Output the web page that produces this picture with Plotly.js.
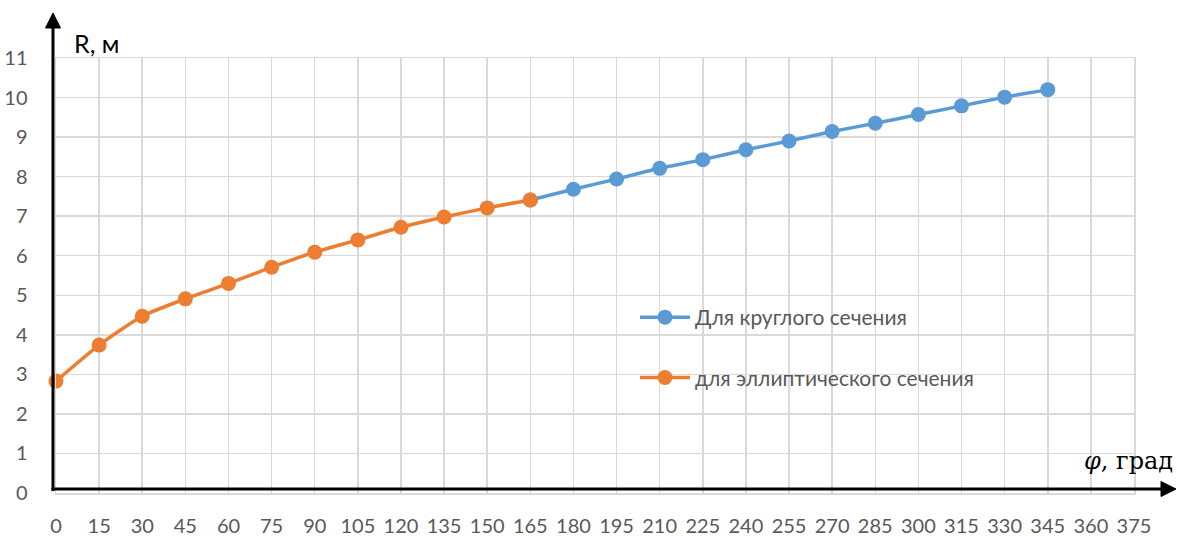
<!DOCTYPE html>
<html>
<head>
<meta charset="utf-8">
<script src="https://cdn.plot.ly/plotly-3.0.1.min.js"></script>
<style>
html,body{margin:0;padding:0;background:#fff;}
#chart{width:1177px;height:536px;}
</style>
</head>
<body>
<div id="chart"></div>
<script>
// Data
var phiElliptic = [0, 15, 30, 45, 60, 75, 90, 105, 120, 135, 150, 165];
var rElliptic = [2.83, 3.74, 4.47, 4.91, 5.30, 5.71, 6.09, 6.40, 6.72, 6.98, 7.21, 7.41];
var phiRound = [165, 180, 195, 210, 225, 240, 255, 270, 285, 300, 315, 330, 345];
var rRound = [7.41, 7.68, 7.94, 8.21, 8.43, 8.68, 8.90, 9.14, 9.35, 9.57, 9.79, 10.01, 10.20];
var xTicks = [0,15,30,45,60,75,90,105,120,135,150,165,180,195,210,225,240,255,270,285,300,315,330,345,360,375];
var yTicks = [0,1,2,3,4,5,6,7,8,9,10,11];
var nameRound = 'Для круглого сечения';
var nameElliptic = 'для эллиптического сечения';

// Layout geometry (pixels)
var W = 1177, H = 536;
var mL = 56, mR = 43, mT = 58, mB = 43;
var pw = W - mL - mR, ph = H - mT - mB;
function px(x){ return (x - mL) / pw; }
function py(y){ return (H - mB - y) / ph; }

var traces = [
  {
    x: phiRound, y: rRound, name: nameRound, type: 'scatter', mode: 'lines+markers',
    line: {color: '#5B9BD5', width: 3.5, shape: 'spline', smoothing: 0.6},
    marker: {color: '#5B9BD5', size: 15},
    legendgroup: 'a', cliponaxis: false
  },
  {
    x: phiElliptic, y: rElliptic, name: nameElliptic, type: 'scatter', mode: 'lines+markers',
    line: {color: '#ED7D31', width: 3.5, shape: 'spline', smoothing: 0.6},
    marker: {color: '#ED7D31', size: 15},
    legendgroup: 'b', cliponaxis: false
  }
];

var axFont = {family: 'Lato, "Open Sans", sans-serif', size: 20, color: '#595959'};

var layout = {
  width: W, height: H,
  margin: {l: mL, r: mR, t: mT, b: mB, pad: 0},
  paper_bgcolor: '#ffffff', plot_bgcolor: '#ffffff',
  showlegend: true,
  legend: {
    x: px(635), y: py(297), xanchor: 'left', yanchor: 'top',
    bgcolor: 'rgba(0,0,0,0)', borderwidth: 0,
    font: {family: 'Lato, "Open Sans", sans-serif', size: 21, color: '#595959'},
    tracegroupgap: 30, itemwidth: 50, traceorder: 'grouped'
  },
  xaxis: {
    range: [0, 375], tickmode: 'array', tickvals: xTicks, ticktext: xTicks.map(String),
    showgrid: true, gridcolor: '#D9D9D9', gridwidth: 1.5,
    showline: true, linecolor: '#D9D9D9', linewidth: 1.5, mirror: true,
    zeroline: false, ticks: 'outside', ticklen: 14, tickcolor: 'rgba(0,0,0,0)',
    tickfont: axFont, fixedrange: true
  },
  yaxis: {
    range: [0, 11], tickmode: 'array', tickvals: yTicks, ticktext: yTicks.map(String),
    showgrid: true, gridcolor: '#D9D9D9', gridwidth: 1.5,
    showline: true, linecolor: '#D9D9D9', linewidth: 1.5, mirror: true,
    zeroline: false, ticks: 'outside', ticklen: 23, tickcolor: 'rgba(0,0,0,0)',
    tickfont: axFont, fixedrange: true
  },
  shapes: [
    {type: 'line', xref: 'paper', yref: 'paper', x0: px(53), x1: px(53), y0: py(491), y1: py(26),
     line: {color: '#000000', width: 3}},
    {type: 'path', xref: 'paper', yref: 'paper',
     path: 'M' + px(53) + ',' + py(13) + ' L' + px(45.5) + ',' + py(28) + ' L' + px(60.5) + ',' + py(28) + ' Z',
     fillcolor: '#000000', line: {color: '#000000', width: 1}},
    {type: 'line', xref: 'paper', yref: 'paper', x0: px(51.5), x1: px(1162), y0: py(489), y1: py(489),
     line: {color: '#000000', width: 3}},
    {type: 'path', xref: 'paper', yref: 'paper',
     path: 'M' + px(1176) + ',' + py(489) + ' L' + px(1161) + ',' + py(481.5) + ' L' + px(1161) + ',' + py(496.5) + ' Z',
     fillcolor: '#000000', line: {color: '#000000', width: 1}}
  ],
  annotations: [
    {text: 'R, м', xref: 'paper', yref: 'paper', x: px(72), y: py(43), xanchor: 'left', yanchor: 'middle',
     showarrow: false, font: {family: 'Lato, "Open Sans", sans-serif', size: 25, color: '#000000'}},
    {text: '<i>φ</i>, град', xref: 'paper', yref: 'paper', x: px(1175), y: py(461), xanchor: 'right', yanchor: 'middle',
     showarrow: false, font: {family: '"DejaVu Serif", "Liberation Serif", serif', size: 24, color: '#000000'}}
  ]
};

Plotly.newPlot('chart', traces, layout, {displayModeBar: false, staticPlot: true});
</script>
</body>
</html>
